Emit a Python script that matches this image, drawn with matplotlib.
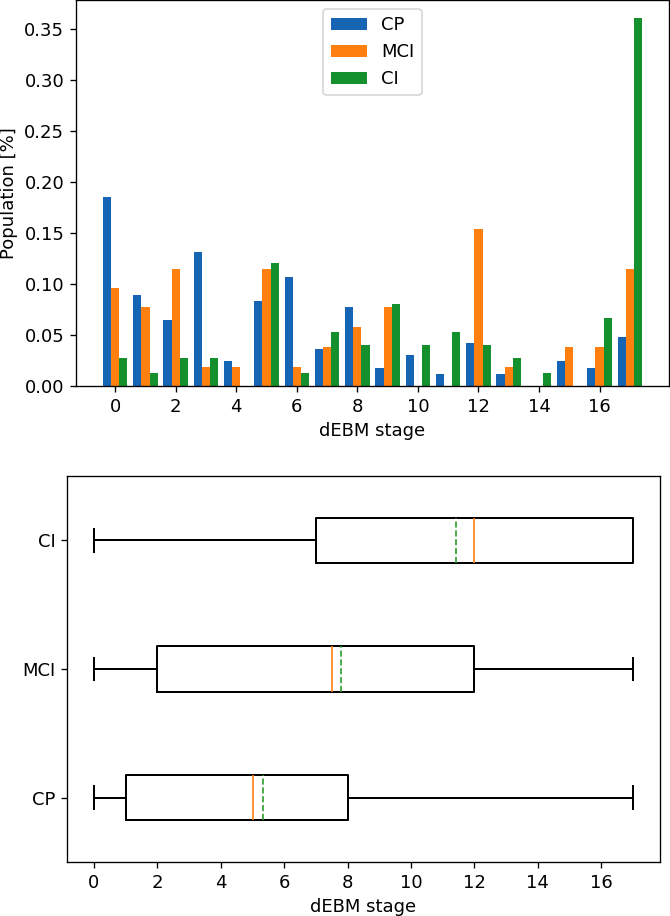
import numpy as np
import matplotlib
matplotlib.use('Agg')
import matplotlib.pyplot as plt

# population fraction per dEBM stage
stages = np.arange(18)
groups = ['CP', 'MCI', 'CI']
cp = [0.185, 0.089, 0.065, 0.131, 0.024, 0.083, 0.107, 0.036, 0.077,
      0.018, 0.030, 0.012, 0.042, 0.012, 0.0, 0.024, 0.018, 0.048]
mci = [0.096, 0.077, 0.115, 0.019, 0.019, 0.115, 0.019, 0.038, 0.058,
       0.077, 0.0, 0.0, 0.154, 0.019, 0.0, 0.038, 0.038, 0.115]
ci = [0.027, 0.013, 0.027, 0.027, 0.0, 0.120, 0.013, 0.053, 0.040,
      0.080, 0.040, 0.053, 0.040, 0.027, 0.013, 0.0, 0.067, 0.360]

# box plot summary per group (CP, MCI, CI)
whislo = [0, 0, 0]
q1 = [1, 2, 7]
med = [5, 7.5, 12]
mean = [5.33, 7.80, 11.42]
q3 = [8, 12, 17]
whishi = [17, 17, 17]

xticks = np.arange(0, 17, 2)
colors = ['#1565b4', '#ff800e', '#14902c']

plt.rcParams['font.size'] = 10.8

dpi = 120
fig = plt.figure(figsize=(670 / dpi, 916 / dpi), dpi=dpi)
W, H = 670.0, 916.0

ax1 = fig.add_axes([76 / W, (H - 386) / H, (669 - 76) / W, 386 / H])
w = 0.27
for i, (vals, c) in enumerate(zip([cp, mci, ci], colors)):
    ax1.bar(stages + (i - 1) * w, vals, width=w, color=c, label=groups[i])
ax1.set_xticks(xticks)
ax1.set_xlabel('dEBM stage')
ax1.set_ylabel('Population [%]')
ax1.legend(loc='upper center')

ax2 = fig.add_axes([67 / W, (H - 862) / H, (660 - 67) / W, 386 / H])
stats = []
for i in range(3):
    stats.append(dict(label=groups[i], whislo=whislo[i], q1=q1[i], med=med[i],
                      mean=mean[i], q3=q3[i], whishi=whishi[i], fliers=[]))
lw = dict(linewidth=1.2)
ax2.bxp(stats, vert=False, showmeans=True, meanline=True, widths=0.35,
        boxprops=lw, whiskerprops=lw, capprops=lw)
ax2.set_xticks(xticks)
ax2.set_xlabel('dEBM stage')
ax2.set_xlim(-0.85, 17.85)

fig.savefig('out.png', dpi=dpi)
